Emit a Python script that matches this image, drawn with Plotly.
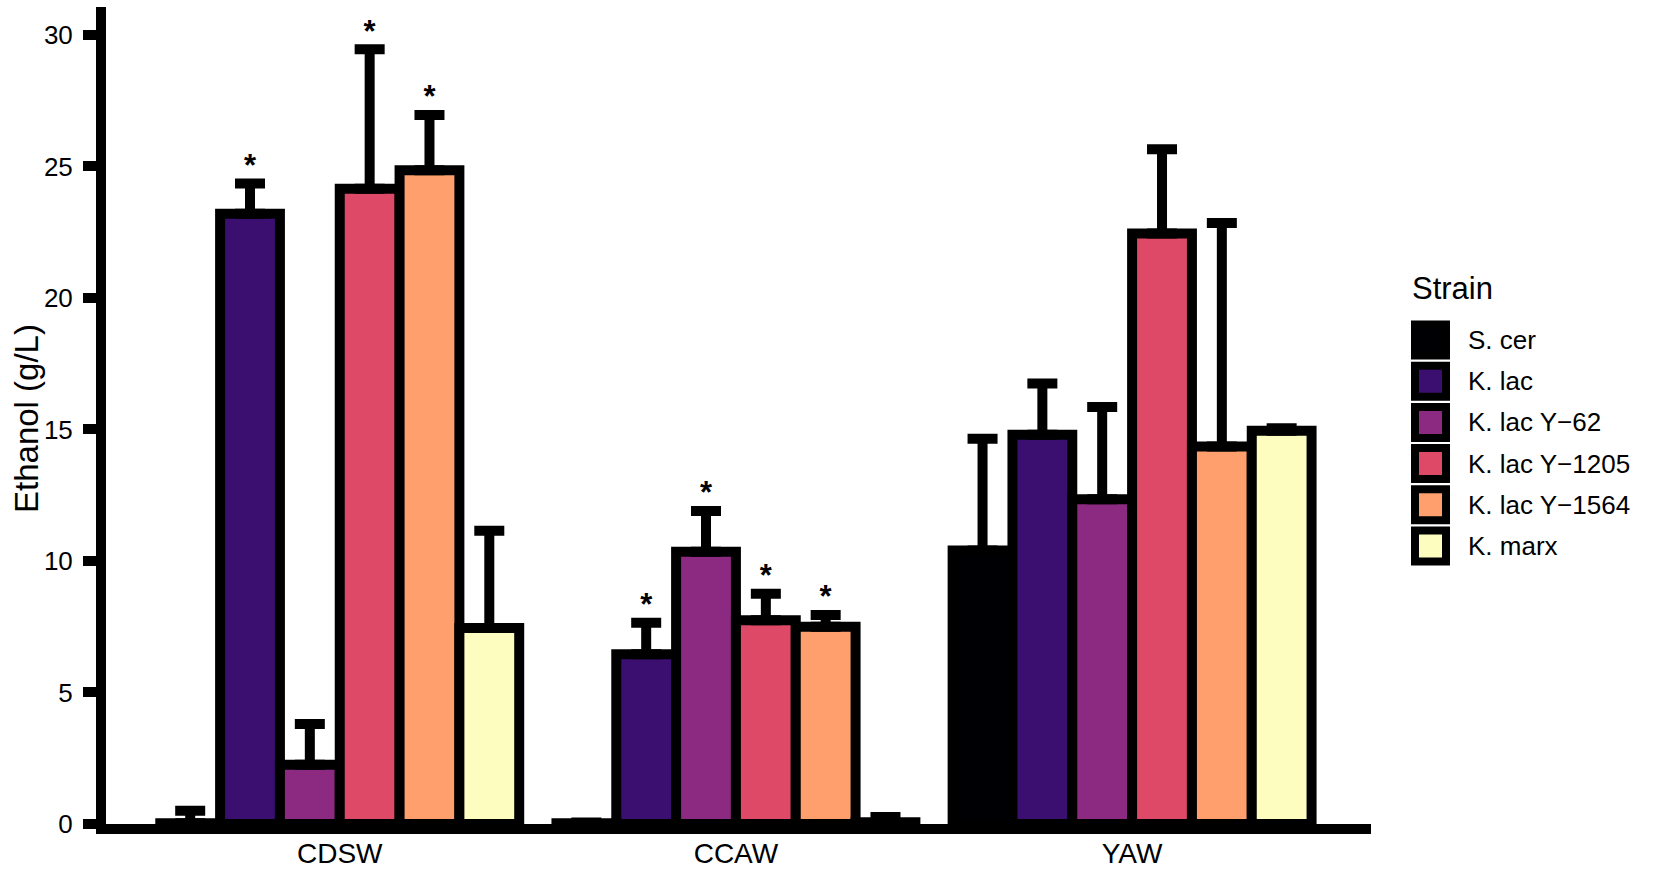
import plotly.graph_objects as go

# categories and strains
categories = ["CDSW", "CCAW", "YAW"]
strains = ["S. cer", "K. lac", "K. lac Y\u221262", "K. lac Y\u22121205", "K. lac Y\u22121564", "K. marx"]
colors = ["#000004", "#3B0F70", "#8C2981", "#DE4968", "#FE9F6D", "#FCFDBF"]

# mean ethanol (g/L) per strain, in order CDSW, CCAW, YAW
s_cer = [0.03, 0.03, 10.4]
k_lac = [23.2, 6.45, 14.8]
k_lac_y62 = [2.25, 10.35, 12.35]
k_lac_y1205 = [24.15, 7.75, 22.45]
k_lac_y1564 = [24.85, 7.5, 14.35]
k_marx = [7.45, 0.07, 14.95]

# upper error (g/L)
s_cer_err = [0.47, 0.03, 4.25]
k_lac_err = [1.15, 1.2, 1.95]
k_lac_y62_err = [1.55, 1.55, 3.5]
k_lac_y1205_err = [5.3, 1.0, 3.2]
k_lac_y1564_err = [2.1, 0.45, 8.5]
k_marx_err = [3.7, 0.2, 0.1]

# significance marks
s_cer_sig = [False, False, False]
k_lac_sig = [True, True, False]
k_lac_y62_sig = [False, True, False]
k_lac_y1205_sig = [True, True, False]
k_lac_y1564_sig = [True, True, False]
k_marx_sig = [False, False, False]

means = [s_cer, k_lac, k_lac_y62, k_lac_y1205, k_lac_y1564, k_marx]
errs = [s_cer_err, k_lac_err, k_lac_y62_err, k_lac_y1205_err, k_lac_y1564_err, k_marx_err]
sigs = [s_cer_sig, k_lac_sig, k_lac_y62_sig, k_lac_y1205_sig, k_lac_y1564_sig, k_marx_sig]

FONT = "Liberation Sans, Arial, sans-serif"
W, H = 1654, 871
L, R, T, B = 106, 283, 7, 47
GAP = 0.094

fig = go.Figure()

for name, col, m, e in zip(strains, colors, means, errs):
    fig.add_trace(go.Bar(
        x=categories, y=m, name=name, offsetgroup=name,
        marker=dict(color=col, line=dict(color="black", width=10)),
        error_y=dict(type="data", array=e, arrayminus=[0] * len(e), symmetric=False,
                     color="black", thickness=10, width=15),
        showlegend=False,
    ))

# asterisks above the error caps
for name, m, e, s in zip(strains, means, errs, sigs):
    fig.add_trace(go.Scatter(
        x=categories, y=[a + b for a, b in zip(m, e)], offsetgroup=name,
        mode="text", text=["<b>*</b>" if f else "" for f in s], textposition="top center",
        textfont=dict(family=FONT, size=31, color="black"),
        showlegend=False, hoverinfo="skip",
    ))

plot_w = W - L - R
plot_h = H - T - B


def px_x(x):
    return (x - L) / plot_w


def px_y(y):
    return (H - B - y) / plot_h


# y-axis title as a rotated annotation, centred like the reference
annotations = [dict(x=px_x(26), y=px_y(419), xref="paper", yref="paper", text="Ethanol (g/L)",
                    textangle=-90, showarrow=False, xanchor="center", yanchor="middle",
                    font=dict(family=FONT, size=33, color="black"))]

# hand-made legend with large swatches
shapes = []
annotations.append(dict(x=px_x(1410), y=px_y(288), xref="paper", yref="paper", text="Strain",
                        showarrow=False, xanchor="left", yanchor="middle",
                        font=dict(family=FONT, size=31, color="black")))
for i, (name, col) in enumerate(zip(strains, colors)):
    cy = 340 + 41.2 * i
    shapes.append(dict(type="rect", xref="paper", yref="paper",
                       x0=px_x(1415), x1=px_x(1446), y0=px_y(cy + 15.5), y1=px_y(cy - 15.5),
                       fillcolor=col, line=dict(color="black", width=8)))
    annotations.append(dict(x=px_x(1466), y=px_y(cy), xref="paper", yref="paper", text=name,
                            showarrow=False, xanchor="left", yanchor="middle",
                            font=dict(family=FONT, size=26, color="black")))

fig.update_layout(
    template="none",
    width=W, height=H,
    margin=dict(l=L, r=R, t=T, b=B, pad=0, autoexpand=False),
    barmode="group", bargap=GAP, bargroupgap=0,
    scattermode="group", scattergap=GAP,
    plot_bgcolor="white", paper_bgcolor="white",
    font=dict(family=FONT, color="black"),
    shapes=shapes, annotations=annotations,
    showlegend=False,
)
fig.update_xaxes(range=[-0.59, 2.603], showline=True, linewidth=10, linecolor="black",
                 showgrid=False, zeroline=False, ticks="", automargin=False,
                 ticklabelstandoff=-5,
                 tickfont=dict(family=FONT, size=28, color="black"))
fig.update_yaxes(range=[0, 31.06], showline=True, linewidth=10, linecolor="black",
                 showgrid=False, zeroline=False, ticks="outside", ticklen=13, tickwidth=10,
                 tickcolor="black", tickvals=[0, 5, 10, 15, 20, 25, 30], ticklabelstandoff=5,
                 automargin=False,
                 tickfont=dict(family=FONT, size=26, color="black"))

# drop the default body margin so the 1654x871 figure fills the window exactly
fig.write_html("out.html", config={"displayModeBar": False},
               post_script="document.body.style.margin='0';")
